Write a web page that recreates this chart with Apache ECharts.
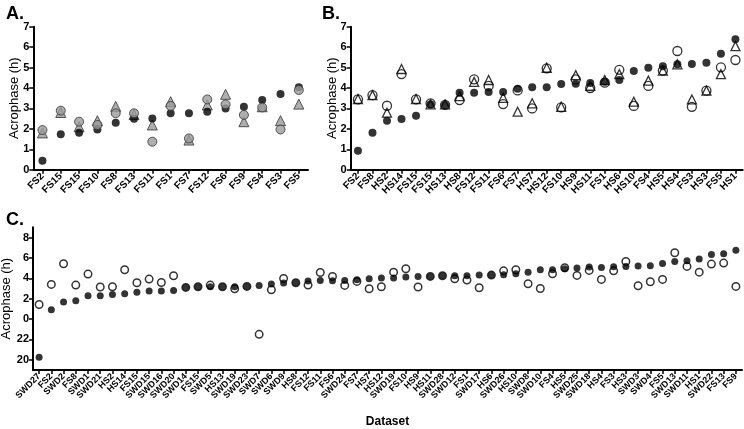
<!DOCTYPE html>
<html>
<head>
<meta charset="utf-8">
<script src="https://cdn.jsdelivr.net/npm/echarts@6/dist/echarts.min.js"></script>
<style>html,body{margin:0;padding:0;background:#fff}#c{width:744px;height:429px}</style>
</head>
<body>
<div id="c"></div>
<script>
// Panel A
const aCats = ['FS2','FS15','FS15','FS10','FS8','FS13','FS11','FS1','FS7','FS12','FS6','FS9','FS4','FS3','FS5'];
const aBlack = [0.44,1.73,1.81,1.97,2.3,2.5,2.51,2.76,2.76,2.84,3.0,3.08,3.41,3.7,4.03];
const aGray  = [1.94,2.89,2.35,2.19,2.76,2.76,1.37,3.12,1.53,3.44,3.2,2.68,3.05,1.97,3.9];
const aTri   = [1.8,2.8,2.1,2.4,3.1,2.7,2.19,3.33,1.45,3.17,3.69,2.35,3.08,2.4,3.21];
// Panel B
const bCats = ['FS2','FS8','HS2','HS14','FS15','FS15','HS13','HS8','FS12','FS11','FS6','FS7','HS7','HS12','FS10','HS9','HS11','FS1','HS6','HS10','FS4','HS5','HS4','FS3','HS3','FS5','HS1'];
const bBlack = [0.93,1.81,2.4,2.48,2.64,3.2,3.17,3.77,3.77,3.8,3.8,3.96,4.03,4.03,4.19,4.21,4.24,4.31,4.39,4.83,4.99,5.07,5.16,5.17,5.24,5.68,6.38];
const bOpen  = [3.44,3.65,3.13,4.68,3.44,3.25,3.17,3.41,4.42,4.1,3.21,3.88,3.0,4.96,3.05,4.42,4.0,4.26,4.89,3.12,4.1,4.85,5.81,3.08,3.87,5.01,5.37];
const bTri   = [3.46,3.65,2.79,4.93,3.46,3.2,3.2,3.6,4.3,4.39,3.52,2.84,3.25,4.99,3.08,4.63,4.11,4.39,4.68,3.33,4.36,4.85,5.16,3.44,3.87,4.68,6.05];
// Panel C (clock hours)
const cCats = ['SWD27','FS2','SWD2','FS8','SWD1','SWD21','HS2','HS14','FS15','SWD15','SWD16','SWD20','SWD14','FS15','SWD5','HS13','SWD19','SWD23','SWD7','SWD6','SWD9','HS8','FS12','FS11','FS6','SWD24','FS7','HS7','HS12','SWD19','FS10','HS9','HS11','SWD28','SWD12','FS1','SWD17','HS6','SWD26','HS10','SWD8','SWD10','FS4','HS5','SWD25','SWD18','HS4','FS3','HS3','SWD3','SWD4','FS5','SWD13','SWD11','HS1','SWD22','FS13','FS9'];
const cBlack = [20.25,0.91,1.66,1.79,2.28,2.28,2.41,2.48,2.64,2.74,2.74,2.81,3.1,3.17,3.17,3.17,3.17,3.2,3.3,3.43,3.53,3.56,3.72,3.79,3.75,3.79,3.85,3.95,4.02,4.02,4.12,4.18,4.18,4.25,4.25,4.25,4.31,4.31,4.34,4.44,4.6,4.83,4.83,4.93,5.0,5.1,5.06,5.13,5.16,5.2,5.23,5.45,5.65,5.72,5.88,6.33,6.4,6.76];
const cOpen  = [1.43,3.4,5.42,3.33,4.41,3.14,3.17,4.83,3.56,3.92,3.59,4.25,3.1,3.17,3.33,3.17,2.97,3.2,22.5,2.87,3.98,3.56,3.33,4.57,4.18,3.3,3.69,2.97,3.17,4.6,4.93,3.14,4.18,4.25,3.95,3.82,3.07,4.31,4.73,4.83,3.46,3.0,4.44,5.03,4.28,4.77,3.89,4.73,5.65,3.27,3.66,3.89,6.5,5.16,4.6,5.39,5.49,3.2];
const cTickHours = [20,22,0,2,4,6,8];

const toAxis = h => (h > 12 ? h - 24 : h);
const cTickVals = cTickHours.map(toAxis);

const FONT = 'Liberation Sans';
const axisLine = {show:true, onZero:false, lineStyle:{color:'#000', width:2}};
const axisTick = {show:true, length:4, lineStyle:{color:'#000', width:1.5}};

function catAxis(grid, cats, size) {
  return {
    type:'category', gridIndex:grid, data: cats.map((_, i) => String(i)),
    boundaryGap:true, axisLine, axisTick:Object.assign({alignWithLabel:true, interval:0}, axisTick),
    axisLabel:{interval:0, rotate:45, fontFamily:FONT, fontWeight:'bold', fontSize:size, color:'#000', margin:5,
      hideOverlap:false, formatter:(v, i) => cats[i]},
    splitLine:{show:false}
  };
}
function valAxis(grid, min, max, gap, extra) {
  return Object.assign({
    type:'value', gridIndex:grid, min, max, interval:1,
    name:'Acrophase (h)', nameLocation:'middle', nameGap:gap, nameRotate:90, nameMoveOverlap:false,
    nameTextStyle:{fontFamily:FONT, fontSize:13, color:'#000'},
    axisLine, axisTick,
    axisLabel:{fontFamily:FONT, fontWeight:'bold', fontSize:11, color:'#000', margin:4},
    splitLine:{show:false}
  }, extra || {});
}

const option = {
  animation:false,
  backgroundColor:'#fff',
  title:[
    {text:'A.', left:1, top:0, textStyle:{fontFamily:FONT, fontWeight:'bold', fontSize:18, color:'#000'}},
    {text:'B.', left:317, top:0, textStyle:{fontFamily:FONT, fontWeight:'bold', fontSize:18, color:'#000'}},
    {text:'C.', left:1, top:206, textStyle:{fontFamily:FONT, fontWeight:'bold', fontSize:18, color:'#000'}}
  ],
  grid:[
    {left:33.3, top:26.7, width:274.7, height:143, outerBoundsMode:'none'},
    {left:350.7, top:26.7, width:392, height:143, outerBoundsMode:'none'},
    {left:33, top:227.3, width:709, height:142.7, outerBoundsMode:'none'}
  ],
  xAxis:[
    catAxis(0, aCats, 10),
    catAxis(1, bCats, 10),
    Object.assign(catAxis(2, cCats, 9), {name:'Dataset', nameLocation:'middle', nameGap:46, nameMoveOverlap:false,
      nameTextStyle:{fontFamily:FONT, fontWeight:'bold', fontSize:12, color:'#000'}})
  ],
  yAxis:[
    valAxis(0, 0, 7, 12),
    valAxis(1, 0, 7, 12),
    valAxis(2, -5, 9, 20, {
      axisTick:Object.assign({customValues:cTickVals}, axisTick),
      axisLabel:{customValues:cTickVals, fontFamily:FONT, fontWeight:'bold', fontSize:11, color:'#000', margin:4,
        formatter:v => String(v < 0 ? v + 24 : v)}
    })
  ],
  series:[
    {type:'scatter', xAxisIndex:0, yAxisIndex:0, symbol:'triangle', symbolSize:10, data:aTri,
      itemStyle:{color:'#9b9b9b', borderColor:'#333', borderWidth:1}},
    {type:'scatter', xAxisIndex:0, yAxisIndex:0, symbol:'circle', symbolSize:8, data:aBlack,
      itemStyle:{color:'#000'}},
    {type:'scatter', xAxisIndex:0, yAxisIndex:0, symbol:'circle', symbolSize:9, data:aGray,
      itemStyle:{color:'#9b9b9b', borderColor:'#333', borderWidth:1}},

    {type:'scatter', xAxisIndex:1, yAxisIndex:1, symbol:'circle', symbolSize:9, data:bOpen,
      itemStyle:{color:'#fff', borderColor:'#000', borderWidth:1.3}},
    {type:'scatter', xAxisIndex:1, yAxisIndex:1, symbol:'triangle', symbolSize:9, data:bTri,
      itemStyle:{color:'rgba(255,255,255,0)', borderColor:'#000', borderWidth:1.3}},
    {type:'scatter', xAxisIndex:1, yAxisIndex:1, symbol:'circle', symbolSize:8, data:bBlack,
      itemStyle:{color:'#000'}},

    {type:'scatter', xAxisIndex:2, yAxisIndex:2, symbol:'circle', symbolSize:7.5, data:cOpen.map(toAxis),
      itemStyle:{color:'#fff', borderColor:'#000', borderWidth:1.5}},
    {type:'scatter', xAxisIndex:2, yAxisIndex:2, symbol:'circle', symbolSize:7, data:cBlack.map(toAxis),
      itemStyle:{color:'#000'}}
  ]
};
const chart = echarts.init(document.getElementById('c'), null, {renderer:'canvas'});
chart.setOption(option);
</script>
</body>
</html>
